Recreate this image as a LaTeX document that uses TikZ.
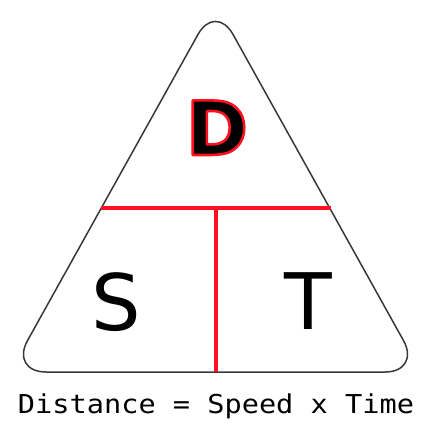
\documentclass[tikz,border=0pt]{standalone}
\usepackage{fontspec}
\setsansfont{DejaVu Sans}
\setmonofont{DejaVu Sans Mono}
\definecolor{redline}{HTML}{FF1020}
\definecolor{edge}{HTML}{383838}
\newcommand{\outlinedtext}[1]{\special{pdf:literal 1 0.06 0.12 RG 2.6 w 2 Tr 1 j}#1\special{pdf:literal 0 Tr}}
\tikzset{
  tri/.style={draw=edge, line width=1.5pt, rounded corners=36pt},
  divider/.style={draw=redline, line width=3.2pt},
  letter/.style={inner sep=0pt, anchor=base, font=\sffamily\fontsize{78}{78}\selectfont},
}
\begin{document}
\begin{tikzpicture}[x=1pt,y=-1pt]
\useasboundingbox (0,0) rectangle (426,426);
\coordinate (apex) at (215.5,3);
\coordinate (bl) at (10,372);
\coordinate (br) at (421,372);
\draw[tri] (bl) -- (apex) -- (br) -- cycle;
\coordinate (hl) at (100.5,208);
\coordinate (hr) at (330.5,208);
\coordinate (vt) at (216,208);
\coordinate (vb) at (216,372);
\draw[divider] (hl) -- (hr);
\draw[divider] (vt) -- (vb);
\node[letter, font=\sffamily\bfseries\fontsize{75}{75}\selectfont] (d) at (217,155) {\outlinedtext{D}};
\node[letter] (s) at (116,330) {S};
\node[letter] (t) at (308,329) {T};
\node[inner sep=0pt, anchor=base, xscale=1.1, font=\ttfamily\fontsize{26}{26}\selectfont] (cap) at (216,413) {Distance = Speed x Time};
\end{tikzpicture}
\end{document}
